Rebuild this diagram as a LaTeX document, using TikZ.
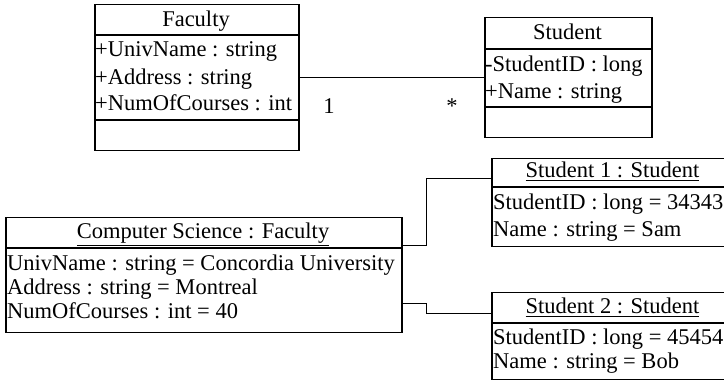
\documentclass[tikz,border=0pt]{standalone}
\usepackage{fontspec}
\setmainfont{Liberation Serif}
\begin{document}
\begin{tikzpicture}[x=1pt,y=-1pt,
  umlbox/.style={draw=black,line width=1.5pt,rectangle,inner sep=0pt,anchor=north west},
  sepline/.style={draw=black,line width=1.5pt},
  conn/.style={draw=black,line width=1pt},
  txt/.style={inner sep=0pt,anchor=base west,font=\fontsize{22.5}{27}\selectfont},
  ctxt/.style={inner sep=0pt,anchor=base,font=\fontsize{22.5}{27}\selectfont}]
\useasboundingbox (0,0) rectangle (724,382);
\clip (0,0) rectangle (724,382);

% Class Faculty
\node[umlbox,minimum width=204pt,minimum height=146pt] (fac) at (94,4) {};
\draw[sepline] (94,35) -- (298,35);
\draw[sepline] (94,120) -- (298,120);
\node[ctxt] (facname) at (196,27) {Faculty};
\node[txt] (fa1) at (95,57) {+UnivName : string};
\node[txt] (fa2) at (95,85) {+Address : string};
\node[txt] (fa3) at (95,111) {+NumOfCourses : int};

% Class Student
\node[umlbox,minimum width=167pt,minimum height=120pt] (stu) at (484,17) {};
\draw[sepline] (484,49) -- (651,49);
\draw[sepline] (484,107) -- (651,107);
\node[ctxt] (stuname) at (567.5,40) {Student};
\node[txt] (sa1) at (485,72) {-StudentID : long};
\node[txt] (sa2) at (485,99) {+Name : string};

% Association with multiplicities
\draw[conn] (fac.east) -- (stu.west);
\node[ctxt] (m1) at (329,114) {1};
\node[ctxt] (m2) at (452,114) {*};

% Object Computer Science : Faculty
\node[umlbox,minimum width=396pt,minimum height=115pt] (cs) at (5,217) {};
\draw[sepline] (5,248) -- (401,248);
\node[ctxt] (csname) at (203,239) {\underline{Computer Science : Faculty}};
\node[txt] (ca1) at (7,271) {UnivName : string = Concordia University};
\node[txt] (ca2) at (7,295) {Address : string = Montreal};
\node[txt] (ca3) at (7,319) {NumOfCourses : int = 40};

% Object Student 1 : Student
\node[umlbox,minimum width=243pt,minimum height=88pt] (s1) at (491,158) {};
\draw[sepline] (491,187) -- (734,187);
\node[ctxt] (s1name) at (612.5,178) {\underline{Student 1 : Student}};
\node[txt] (s1a1) at (493,210) {StudentID : long = 34343};
\node[txt] (s1a2) at (493,237) {Name : string = Sam};

% Object Student 2 : Student
\node[umlbox,minimum width=243pt,minimum height=87pt] (s2) at (491,292) {};
\draw[sepline] (491,323) -- (734,323);
\node[ctxt] (s2name) at (612.5,314) {\underline{Student 2 : Student}};
\node[txt] (s2a1) at (493,345) {StudentID : long = 45454};
\node[txt] (s2a2) at (493,369) {Name : string = Bob};

% Links
\draw[conn] (cs.east |- 0,246) -| (426,179) -- (s1.west |- 0,179);
\draw[conn] (cs.east |- 0,304) -| (426,314) -- (s2.west |- 0,314);
\end{tikzpicture}
\end{document}
